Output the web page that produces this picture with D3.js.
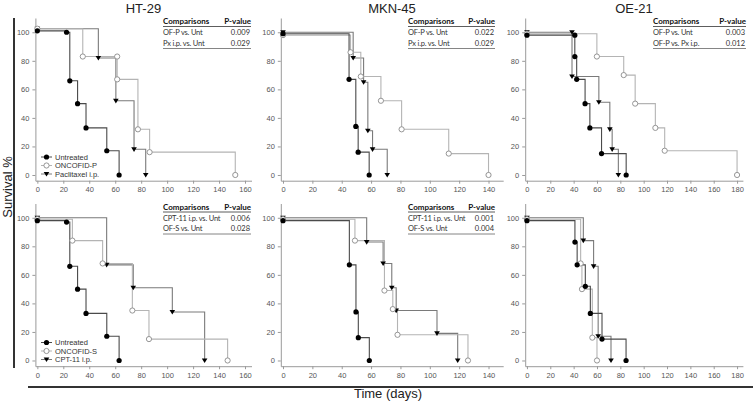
<!DOCTYPE html>
<html><head><meta charset="utf-8">
<script src="https://cdn.jsdelivr.net/npm/d3@7"></script>
<style>body{margin:0;background:#fff}svg{display:block}</style>
</head><body>
<svg id="chart" width="753" height="403"></svg>
<script>
// ---------- DATA ----------
const cellLines = ["HT-29", "MKN-45", "OE-21"];
const xTicksHT29 = [0, 20, 40, 60, 80, 100, 120, 140, 160];
const xTicksMKN45 = [0, 20, 40, 60, 80, 100, 120, 140];
const xTicksOE21 = [0, 20, 40, 60, 80, 100, 120, 140, 160, 180];
const yTicks = [0, 20, 40, 60, 80, 100];
const legendTop = ["Untreated", "ONCOFID-P", "Paclitaxel i.p."];
const legendBottom = ["Untreated", "ONCOFID-S", "CPT-11 i.p."];

// Kaplan-Meier steps: [time (days), survival % after event]
// Top row: Untreated / ONCOFID-P / Paclitaxel i.p.
const ht29Unt = [[0,101],[22.5,100],[25,66],[31,50],[37.5,33],[53.5,17],[63,0]];
const ht29OFP = [[0,102.5],[35,83],[61.5,83],[61.5,67],[77.5,32],[86.5,16],[152.5,0]];
const ht29Pac = [[0,102.5],[47,82],[60.5,52],[74.5,18],[83.5,0]];
const mkn45Unt = [[0,99],[45,67],[49.6,34],[51.2,16],[58.7,0]];
const mkn45OFP = [[0,98],[46,86],[53,69],[66.7,52],[80.8,32],[112.9,15],[140,0]];
const mkn45Pac = [[0,100],[47.8,82],[54.9,65],[57.8,31],[61,18],[71,0]];
const oe21Unt = [[0,98],[41,98],[41,83],[42.6,67],[49.8,50],[53.9,33],[63.9,15],[85,0]];
const oe21OFP = [[0,99],[59.9,83],[82.9,70],[92.7,50],[110,33],[118,17],[180,0]];
const oe21Pac = [[0,100],[38.6,100],[38.6,69],[61.6,51],[71,32],[73,18],[78.3,0]];
// Bottom row: Untreated / ONCOFID-S / CPT-11 i.p.
const ht29UntB = [[0,98],[22.5,97],[25,66],[31,50],[37.5,33],[53.5,17],[63,0]];
const ht29OFS = [[0,99],[27,84],[50.3,68],[73.2,35],[86,15],[146.6,0]];
const ht29CPT = [[0,100],[53.4,67],[73.9,51],[104,34],[128.9,0]];
const mkn45UntB = [[0,98],[45.2,67],[49.7,34],[51.3,16],[58.8,0]];
const mkn45OFS = [[0,99],[49,84],[69.1,49],[74.8,36],[78,18],[126,0]];
const mkn45CPT = [[0,100],[57,83],[68.2,68],[74.1,51],[77.1,35],[104.9,19],[119,0]];
const oe21UntB = [[0,98],[41.1,83],[43,67],[50,52],[54.3,33],[64.3,15],[84.9,0]];
const oe21OFS = [[0,99],[46,68],[47.1,50],[56,16],[60,0]];
const oe21CPT = [[0,100],[48.3,84],[57.1,66],[61,17],[72,0]];

// Statistics tables
const compHT29Top = ["OF-P vs. Unt", "Px i.p. vs. Unt"];
const pHT29Top = ["0.009", "0.029"];
const compMKN45Top = ["OF-P vs. Unt", "Px i.p. vs. Unt"];
const pMKN45Top = ["0.022", "0.029"];
const compOE21Top = ["OF-P vs. Unt", "OF-P vs. Px i.p."];
const pOE21Top = ["0.003", "0.012"];
const compHT29Bot = ["CPT-11 i.p. vs. Unt", "OF-S vs. Unt"];
const pHT29Bot = ["0.006", "0.028"];
const compMKN45Bot = ["CPT-11 i.p. vs. Unt", "OF-S vs. Unt"];
const pMKN45Bot = ["0.001", "0.004"];

// ---------- LAYOUT ----------
const svg = d3.select("#chart");
const font = "'Liberation Sans', Arial, sans-serif";
const tabFont = "Lato, 'Open Sans', sans-serif";
const cols = [
  {domain:[-1.5,165], range:[35.4,251.5], ticks:xTicksHT29, tx0:163, tx1:251},
  {domain:[-1.5,150], range:[280.8,503.2], ticks:xTicksMKN45, tx0:408, tx1:495},
  {domain:[-1.5,185], range:[525.2,742.9], ticks:xTicksOE21, tx0:653, tx1:746}
];
const rows = [{y0:0, legend:legendTop}, {y0:185.5, legend:legendBottom}];
const seriesStyle = [
  {line:"#4a4a4a", marker:"circleFilled"},
  {line:"#b4b4b4", marker:"circleOpen"},
  {line:"#7a7a7a", marker:"triangle"}
];
const panels = [
  {r:0,c:0,series:[ht29Pac,ht29OFP,ht29Unt], comp:compHT29Top, p:pHT29Top},
  {r:0,c:1,series:[mkn45Pac,mkn45OFP,mkn45Unt], comp:compMKN45Top, p:pMKN45Top},
  {r:0,c:2,series:[oe21Pac,oe21OFP,oe21Unt], comp:compOE21Top, p:pOE21Top},
  {r:1,c:0,series:[ht29CPT,ht29OFS,ht29UntB], comp:compHT29Bot, p:pHT29Bot},
  {r:1,c:1,series:[mkn45CPT,mkn45OFS,mkn45UntB], comp:compMKN45Bot, p:pMKN45Bot},
  {r:1,c:2,series:[oe21CPT,oe21OFS,oe21UntB], comp:null, p:null}
];
const styleOrder = [2,1,0]; // series index -> style index

function drawMarker(g, type, x, y) {
  if (type === "circleFilled") {
    g.append("circle").attr("cx",x).attr("cy",y).attr("r",2.6).attr("fill","#000");
  } else if (type === "circleOpen") {
    g.append("circle").attr("cx",x).attr("cy",y).attr("r",2.6).attr("fill","#fff")
      .attr("stroke","#8a8a8a").attr("stroke-width",0.9);
  } else {
    g.append("path").attr("d",`M${x-2.8},${y-2}L${x+2.8},${y-2}L${x},${y+2.6}Z`).attr("fill","#000");
  }
}

panels.forEach(p => {
  const col = cols[p.c], row = rows[p.r];
  const x = d3.scaleLinear().domain(col.domain).range(col.range);
  const y = d3.scaleLinear().domain([-4,110]).range([180.7+row.y0, 18+row.y0]);
  const g = svg.append("g");

  // axes
  const ax = g.append("g").attr("transform",`translate(0,${y(-4)})`)
    .call(d3.axisBottom(x).tickValues(col.ticks).tickSize(3).tickPadding(3).tickSizeOuter(0));
  const ay = g.append("g").attr("transform",`translate(${x(-1.5)},0)`)
    .call(d3.axisLeft(y).tickValues(yTicks).tickSize(3).tickPadding(3).tickSizeOuter(0));
  [ax, ay].forEach(a => {
    a.select(".domain").attr("stroke","#9a9a9a").attr("stroke-width",1);
    a.selectAll(".tick line").attr("stroke","#9a9a9a");
    a.selectAll(".tick text").attr("fill","#555").style("font-family",font).style("font-size","7.5px");
  });

  // title
  if (p.r === 0) {
    g.append("text").attr("x",(col.range[0]+col.range[1])/2).attr("y",12.5)
      .attr("text-anchor","middle").style("font-family",font).style("font-size","13px")
      .attr("fill","#222").text(cellLines[p.c]);
  }

  // curves
  const line = d3.line().x(d=>x(d[0])).y(d=>y(d[1])).curve(d3.curveStepAfter);
  p.series.forEach((s,i) => {
    const st = seriesStyle[styleOrder[i]];
    g.append("path").datum(s).attr("d",line).attr("fill","none")
      .attr("stroke",st.line).attr("stroke-width",1.1);
  });
  p.series.forEach((s,i) => {
    const st = seriesStyle[styleOrder[i]];
    s.forEach(d => drawMarker(g, st.marker, x(d[0]), y(d[1])));
  });

  // legend
  if (p.c === 0) {
    const ly = [157, 165.5, 174];
    row.legend.forEach((lab,i) => {
      const st = seriesStyle[i];
      const yy = ly[i] + row.y0;
      g.append("line").attr("x1",41).attr("x2",52).attr("y1",yy).attr("y2",yy)
        .attr("stroke",st.line).attr("stroke-width",1);
      drawMarker(g, st.marker, 46.5, yy);
      g.append("text").attr("x",55).attr("y",yy+2.6).style("font-family",font)
        .style("font-size","7.5px").attr("fill","#333").text(lab);
    });
  }

  // table
  if (p.comp) {
    const t0 = col.tx0, t1 = col.tx1, b = row.y0;
    g.append("text").attr("x",t0).attr("y",b+24).style("font-family",tabFont).style("font-weight","bold")
      .style("font-size","8px").attr("fill","#111").text("Comparisons");
    g.append("text").attr("x",t1).attr("y",b+24).attr("text-anchor","end").style("font-family",tabFont)
      .style("font-weight","bold").style("font-size","8px").attr("fill","#111").text("P-value");
    g.append("line").attr("x1",t0).attr("x2",t1).attr("y1",b+26.5).attr("y2",b+26.5).attr("stroke","#333").attr("stroke-width",0.8);
    p.comp.forEach((c,i) => {
      const yy = b + 35 + i*10.8;
      g.append("text").attr("x",t0).attr("y",yy).style("font-family",tabFont).style("font-size","7.5px")
        .style("letter-spacing","-0.2px").attr("fill","#333").text(c);
      g.append("text").attr("x",t1-1).attr("y",yy).attr("text-anchor","end").style("font-family",tabFont)
        .style("font-size","7.5px").attr("fill","#333").text(p.p[i]);
    });
    g.append("line").attr("x1",t0).attr("x2",t1).attr("y1",b+48.5).attr("y2",b+48.5).attr("stroke","#666").attr("stroke-width",0.8);
  }
});

// frame lines and overall labels
svg.append("line").attr("x1",14).attr("x2",14).attr("y1",18).attr("y2",368)
  .attr("stroke","#333").attr("stroke-width",2);
svg.append("line").attr("x1",28).attr("x2",753).attr("y1",387).attr("y2",387)
  .attr("stroke","#333").attr("stroke-width",2);
svg.append("text").attr("transform","translate(12,187) rotate(-90)").attr("text-anchor","middle")
  .style("font-family",font).style("font-size","13px").attr("fill","#222").text("Survival %");
svg.append("text").attr("x",388).attr("y",397.5).attr("text-anchor","middle")
  .style("font-family",font).style("font-size","13px").attr("fill","#222").text("Time (days)");
</script>
</body></html>
